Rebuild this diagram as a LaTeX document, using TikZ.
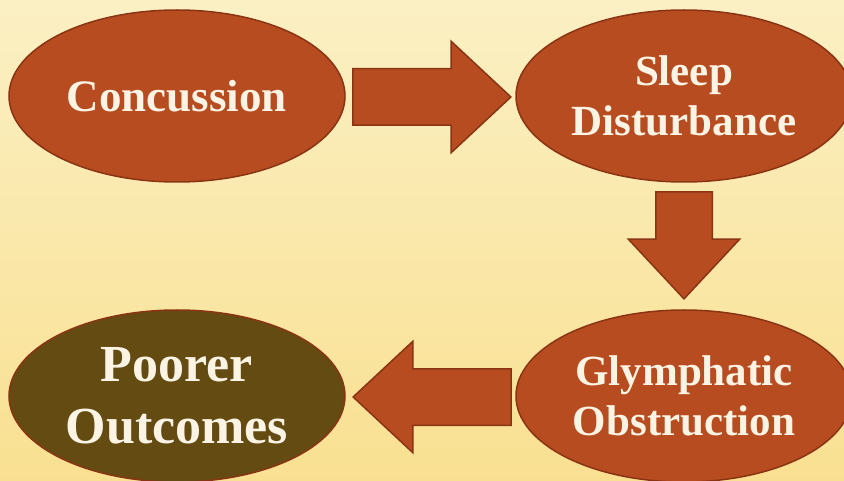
\documentclass[tikz,border=0pt]{standalone}
\usepackage{fontspec}
\setmainfont{Liberation Serif}
\usepackage{tikz}
\usetikzlibrary{shapes.geometric,shapes.arrows}
\definecolor{bgtop}{RGB}{251,240,196}
\definecolor{bgbot}{RGB}{249,224,145}
\definecolor{rust}{RGB}{183,76,32}
\definecolor{rustdark}{RGB}{138,52,19}
\definecolor{olive}{RGB}{99,75,18}
\definecolor{cream}{RGB}{251,243,227}
\tikzset{blob/.style = {ellipse, draw=rustdark, fill=rust, line width=1.5pt,
    minimum width=336pt, minimum height=172pt, inner sep=0pt,
    text=cream, align=center, font=\fontsize{43}{50}\selectfont\bfseries},
  bigarrow/.style = {single arrow, draw=rustdark, fill=rust, line width=1.5pt,
    minimum width=110pt, single arrow head extend=27.5pt, single arrow tip angle=86,
    inner xsep=0pt, inner ysep=27.5pt, anchor=tip}}

\begin{document}
\begin{tikzpicture}[x=1pt,y=-1pt]
  \useasboundingbox (0,0) rectangle (844,481);
  \clip (0,0) rectangle (844,481);
  \fill[top color=bgtop, bottom color=bgbot] (0,0) rectangle (844,481);

  \node[blob, font=\fontsize{45}{52}\selectfont\bfseries] (conc) at (177,96) {Concussion};
  \node[blob] (sleep) at (684,96) {Sleep\\Disturbance};
  \node[blob] (glym) at (684,396) {Glymphatic\\Obstruction};
  \node[blob, fill=olive, font=\fontsize{52}{62}\selectfont\bfseries] (poor) at (177,396) {Poorer\\Outcomes};

  \node[bigarrow, minimum height=158pt] (a1) at (512,97) {};
  \node[bigarrow, minimum height=107pt, inner xsep=27.5pt, inner ysep=0pt,
    shape border rotate=270] (a2) at (684,300) {};
  \node[bigarrow, minimum height=158pt, shape border rotate=180] (a3) at (352,397) {};
\end{tikzpicture}
\end{document}
